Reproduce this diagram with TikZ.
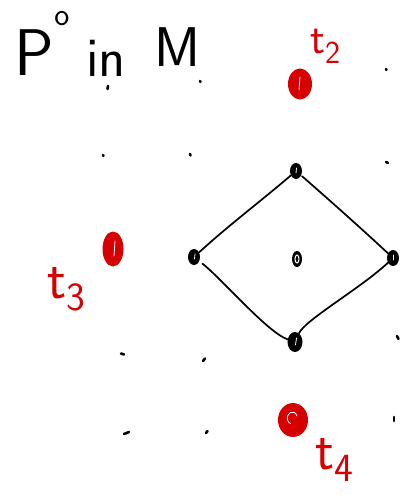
\documentclass[tikz,border=0pt]{standalone}
\usepackage{fontspec}
\usetikzlibrary{shapes.geometric}
\definecolor{handred}{RGB}{214,0,0}
\tikzset{
  title/.style={inner sep=0pt, font=\sffamily\fontsize{56}{60}\selectfont},
  lbl/.style={inner sep=0pt, anchor=base west, text=handred, font=\sffamily\fontsize{56}{60}\selectfont},
  speck/.style={line width=2.6pt, line cap=round},
  vtx/.style={ellipse, fill=black, inner sep=0pt, minimum width=12pt, minimum height=16pt},
  tok/.style={ellipse, fill=handred, inner sep=0pt},
  hl/.style={draw=white, line width=0.8pt, line cap=round},
  edge/.style={line width=1.7pt, line cap=round},
}
\newcommand{\subsz}[2]{{\fontsize{#1}{#1}\selectfont\raisebox{-0.3em}{#2}}}
\begin{document}
\begin{tikzpicture}[x=1pt,y=-1pt]
\useasboundingbox (0,0) rectangle (407,495);
% title
\node[title, font=\sffamily\fontsize{66}{70}\selectfont] (P) at (34,53) {P};
\node[inner sep=0pt, font=\sffamily\fontsize{32}{32}\selectfont] (sup) at (62,19) {o};
\node[title] (in) at (106,58) {in};
\node[title] (M) at (177,47) {M};
% grid specks
\draw[speck] (108,86) -- (107.5,89);
\draw[speck] (200,81) -- (200.5,82);
\draw[speck] (386,69) -- (386.5,70);
\draw[speck] (103,155) -- (103.5,156);
\draw[speck] (190,154) -- (190.5,155.5);
\draw[speck] (386,162) -- (388,163);
\draw[speck] (121,353.5) -- (124,354.5);
\draw[speck] (203,361) -- (205,358.5);
\draw[speck] (397,336) -- (398.5,339);
\draw[speck] (124,434) -- (129,432);
\draw[speck] (206,433) -- (207.5,431);
\draw[speck] (394,417) -- (394,421);
% red tokens
\node[tok, minimum width=24pt, minimum height=31pt] (t2dot) at (300,84) {};
\node[tok, minimum width=21pt, minimum height=35pt] (t3dot) at (113,249) {};
\node[tok, minimum width=30pt, minimum height=34pt] (t4dot) at (293,420) {};
\draw[hl] ([shift={(0,-7)}]t2dot.center) -- ([shift={(-1,6)}]t2dot.center);
\draw[hl] ([shift={(2,-8)}]t3dot.center) -- ([shift={(1,7)}]t3dot.center);
\draw[hl] ([shift={(4,-4)}]t4dot.center) arc[start angle=20, end angle=250, x radius=5pt, y radius=6pt];
\node[lbl, font=\sffamily\fontsize{44}{50}\selectfont] (t2) at (310,54) {t\subsz{32}{2}};
\node[lbl] (t3) at (47,298) {t\subsz{40}{3}};
\node[lbl] (t4) at (315,469) {t\subsz{40}{4}};
% polytope
\node[vtx] (top) at (296,171) {};
\node[vtx] (left) at (194,257) {};
\node[vtx] (right) at (393,258) {};
\node[vtx, minimum width=15pt, minimum height=20pt] (bottom) at (295,342) {};
\node[vtx, minimum width=10pt, minimum height=16pt] (mid) at (297,259) {};
\draw[hl] ([shift={(0.5,-3)}]top.center) -- ([shift={(0,2)}]top.center);
\draw[hl] ([shift={(1,-3)}]left.center) -- ([shift={(0.5,2)}]left.center);
\draw[hl] ([shift={(0,-3)}]right.center) -- ([shift={(0,2)}]right.center);
\draw[hl] ([shift={(1.5,-4)}]bottom.center) -- ([shift={(0.5,3)}]bottom.center);
\draw[hl, line width=1pt] ([shift={(0,0)}]mid.center) ellipse[x radius=2pt, y radius=4pt];
\draw[edge] (top) .. controls +(-35,30) and +(35,-32) .. (left);
\draw[edge, shorten <=4pt] (left) .. controls +(28,22) and +(-28,-10) .. (bottom);
\draw[edge] (bottom) .. controls +(10,-22) and +(-32,30) .. (right);
\draw[edge, shorten >=1pt] (right) .. controls +(-30,-28) and +(30,26) .. (top);
\end{tikzpicture}
\end{document}
